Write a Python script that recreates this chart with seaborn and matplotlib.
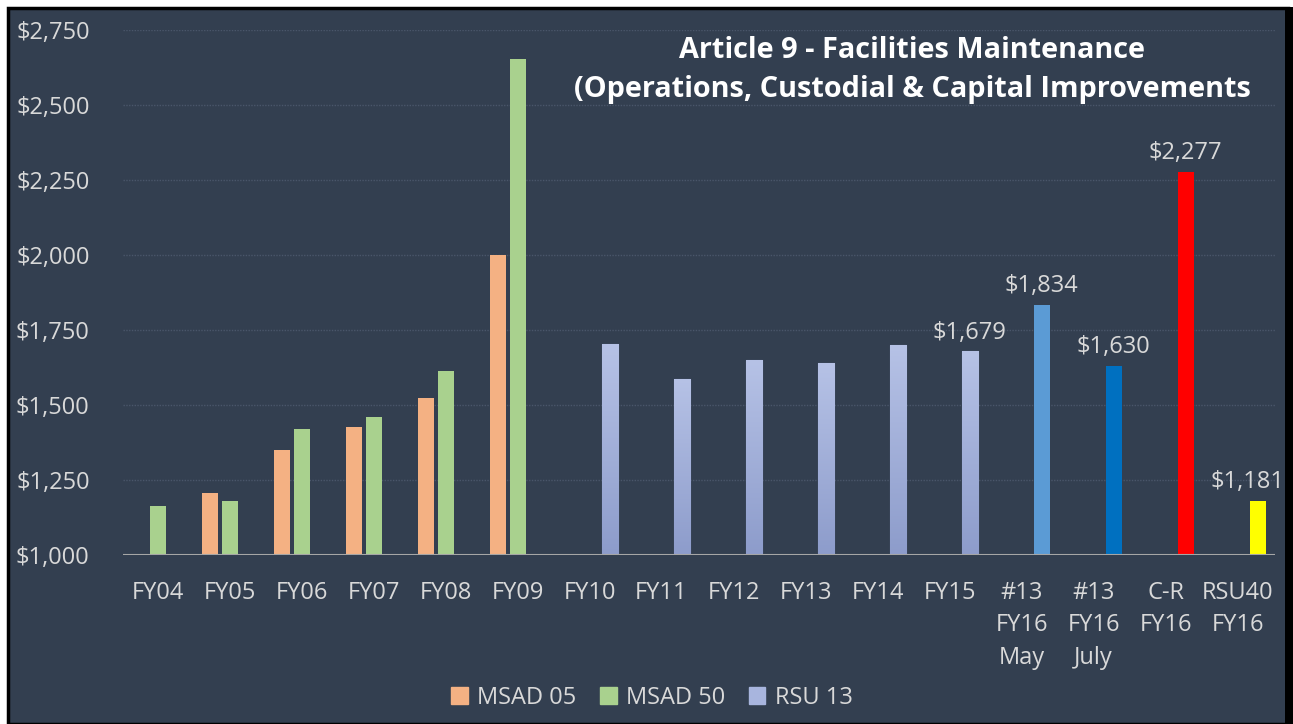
import numpy as np
import pandas as pd
import matplotlib.pyplot as plt
import seaborn as sns
from matplotlib.patches import Rectangle
from matplotlib.colors import LinearSegmentedColormap

categories = ['FY04', 'FY05', 'FY06', 'FY07', 'FY08', 'FY09', 'FY10', 'FY11', 'FY12',
              'FY13', 'FY14', 'FY15', '#13\nFY16\nMay', '#13\nFY16\nJuly', 'C-R\nFY16', 'RSU40\nFY16']
msad05 = [np.nan, 1206, 1349, 1426, 1523, 2000] + [np.nan] * 10
msad50 = [1164, 1180, 1419, 1460, 1613, 2653] + [np.nan] * 10
rsu13 = [np.nan] * 6 + [1702, 1587, 1649, 1639, 1699, 1679, 1834, 1630, 2277, 1181]
special_colors = ['#5B9BD5', '#0070C0', '#FF0000', '#FFFF00']
series = ['MSAD 05', 'MSAD 50', 'RSU 13']
series_colors = ['#F4B183', '#A9D18E', '#A8B5DE']

bg = '#333F50'
txt = '#D9D9D9'
font = 'Open Sans'
YMIN, YMAX = 1000, 2750

df = pd.DataFrame({'cat': categories, 'MSAD 05': msad05, 'MSAD 50': msad50, 'RSU 13': rsu13})
long = df.melt(id_vars='cat', var_name='series', value_name='value').dropna()

fig = plt.figure(figsize=(12.93, 7.24), dpi=100, facecolor='white')
# dark panel with black frame
fig.patches.append(Rectangle((8 / 1293, 0), 1280 / 1293, 716 / 724, transform=fig.transFigure,
                             facecolor=bg, edgecolor='black', linewidth=2.5, zorder=-10))
fig.patches.append(Rectangle((1285 / 1293, 0), 8 / 1293, 717 / 724, transform=fig.transFigure,
                             facecolor='black', edgecolor='none', zorder=-9))

ax = fig.add_axes([123 / 1293, 1 - 555 / 724, 1152 / 1293, 525 / 724])
ax.set_facecolor(bg)

sns.barplot(data=long, x='cat', y='value', hue='series', order=categories, hue_order=series,
            palette=series_colors, saturation=1, width=0.834, gap=0.2,
            errorbar=None, ax=ax, legend=False)

# RSU 13 bars: everything right of FY09
rsu_bars = sorted([p for c in ax.containers for p in c.patches
                   if p.get_x() + p.get_width() / 2 > 5.5], key=lambda p: p.get_x())

cmap = LinearSegmentedColormap.from_list('rsu', ['#8D9CCB', '#B6C2E6'])
grad = np.linspace(0, 1, 256).reshape(-1, 1)
for i, p in enumerate(rsu_bars):
    if i >= 6:
        p.set_facecolor(special_colors[i - 6])
    else:
        x0 = p.get_x()
        im = ax.imshow(grad, extent=[x0, x0 + p.get_width(), YMIN, p.get_y() + p.get_height()],
                       origin='lower', aspect='auto', cmap=cmap, zorder=p.get_zorder() + 0.1)
        im.set_clip_path(p)
        p.set_edgecolor('#8A98C4')
        p.set_linewidth(0.8)

# data labels on the last bars (last one nudged left so it stays inside the frame)
nudge = [0, 0, 0, 0, -0.14]
for p, v, dx in zip(rsu_bars[5:], rsu13[11:], nudge):
    ax.text(p.get_x() + p.get_width() / 2 + dx, v + 22, f'${v:,.0f}', ha='center', va='bottom',
            color=txt, fontsize=17, family=font)

ax.set_xlim(-0.48, 15.52)
ax.set_ylim(YMIN, YMAX)
ax.set_yticks(range(YMIN, YMAX + 1, 250))
ax.set_yticklabels([f'${v:,}' for v in range(YMIN, YMAX + 1, 250)])
ax.grid(axis='y', color='#4A566A', linewidth=1, linestyle=(0, (1, 1)))
ax.set_axisbelow(True)
ax.axhline(YMIN, color='#A6A6A6', linewidth=1.5, zorder=5)
for s in ax.spines.values():
    s.set_visible(False)
ax.tick_params(length=0, colors=txt, labelsize=17)
ax.tick_params(axis='x', pad=19)
ax.tick_params(axis='y', pad=24)
for t in ax.get_xticklabels() + ax.get_yticklabels():
    t.set_family(font)
    t.set_linespacing(1.45)
for t in ax.get_xticklabels():
    t.set_va('top')
ax.set_xlabel('')
ax.set_ylabel('')

fig.text(912 / 1293, 1 - 50 / 724, 'Article 9 - Facilities Maintenance', ha='center', va='center',
         color='white', fontsize=20.8, fontweight='bold', family=font)
fig.text(912 / 1293, 1 - 90 / 724, '(Operations, Custodial & Capital Improvements', ha='center',
         va='center', color='white', fontsize=20.8, fontweight='bold', family=font)

handles = [Rectangle((0, 0), 1, 1, color=c) for c in series_colors]
leg = fig.legend(handles, series, loc='center', bbox_to_anchor=(652 / 1293, 1 - 698 / 724), ncol=3,
                 frameon=False, handlelength=0.7, handleheight=0.7, handletextpad=0.4,
                 columnspacing=1.0, prop={'family': font, 'size': 17})
for t in leg.get_texts():
    t.set_color(txt)

fig.savefig('out.png', dpi=100, facecolor=fig.get_facecolor())
